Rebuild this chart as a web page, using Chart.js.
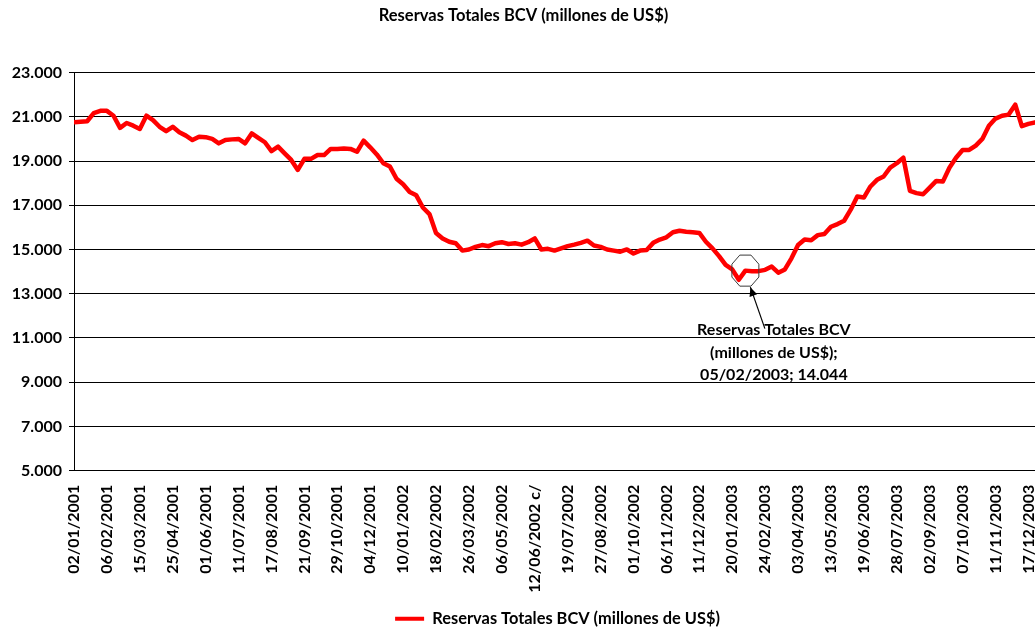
<!DOCTYPE html>
<html>
<head>
<meta charset="utf-8">
<script src="https://cdn.jsdelivr.net/npm/chart.js@4.4.1/dist/chart.umd.min.js"></script>
<style>
  html, body { margin: 0; padding: 0; background: #ffffff; overflow: hidden; }
  #wrap { width: 1035px; height: 632px; }
</style>
</head>
<body>
<div id="wrap"><canvas id="c" width="1035" height="632"></canvas></div>
<script>
// ---- data ----
const chartTitle = 'Reservas Totales BCV (millones de US$)';
const seriesName = 'Reservas Totales BCV (millones de US$)';

const tickLabels = [
  '02/01/2001', '06/02/2001', '15/03/2001', '25/04/2001', '01/06/2001',
  '11/07/2001', '17/08/2001', '21/09/2001', '29/10/2001', '04/12/2001',
  '10/01/2002', '18/02/2002', '26/03/2002', '06/05/2002', '12/06/2002 c/',
  '19/07/2002', '27/08/2002', '01/10/2002', '06/11/2002', '11/12/2002',
  '20/01/2003', '24/02/2003', '03/04/2003', '13/05/2003', '19/06/2003',
  '28/07/2003', '02/09/2003', '07/10/2003', '11/11/2003', '17/12/2003'
];
const pointsPerLabel = 5; // weekly readings between labelled dates

const reserves = [
  20750, 20780, 20800, 21170, 21270, 21270, 21050, 20500, 20720, 20600,
  20450, 21050, 20850, 20550, 20350, 20550, 20300, 20150, 19950, 20100,
  20080, 20000, 19800, 19950, 19980, 20000, 19800, 20250, 20050, 19850,
  19450, 19650, 19350, 19050, 18600, 19100, 19100, 19270, 19270, 19550,
  19550, 19570, 19550, 19420, 19920, 19620, 19300, 18900, 18750, 18200,
  17950, 17600, 17450, 16900, 16600, 15750, 15500, 15350, 15280, 14950,
  15000, 15120, 15200, 15150, 15280, 15330, 15250, 15280, 15220, 15330,
  15500, 15000, 15030, 14950, 15050, 15150, 15220, 15300, 15400, 15180,
  15120, 15000, 14950, 14900, 15000, 14820, 14950, 14980, 15300, 15450,
  15550, 15780, 15850, 15800, 15780, 15750, 15350, 15050, 14700, 14300,
  14100, 13630, 14044, 14020, 14020, 14080, 14230, 13950, 14100, 14600,
  15200, 15450, 15420, 15650, 15700, 16030, 16150, 16300, 16800, 17400,
  17350, 17850, 18150, 18300, 18700, 18900, 19150, 17650, 17550, 17500,
  17800, 18100, 18070, 18700, 19150, 19500, 19500, 19700, 20000, 20600,
  20920, 21050, 21100, 21550, 20580, 20680, 20750
];

const annotationIndex = 102; // 05/02/2003
const annotationLines = ['Reservas Totales BCV', '(millones de US$);', '05/02/2003; 14.044'];

const yMin = 5000, yMax = 23000, yStep = 2000;

// ---- helpers ----
const FONT = 'Lato, "Open Sans", sans-serif';
function fmtThousands(v) {
  return String(Math.round(v)).replace(/\B(?=(\d{3})+(?!\d))/g, '.');
}

const boxShiftPlugin = {
  id: 'boxShift',
  afterLayout(chart) {
    const lg = chart.legend;
    if (lg) { lg.left += 40; lg.right += 40; }
    const tt = chart.titleBlock;
    if (tt) { tt.left += 6; tt.right += 6; }
  }
};

const calloutPlugin = {
  id: 'callout',
  afterDatasetsDraw(chart) {
    const pt = chart.getDatasetMeta(0).data[annotationIndex];
    if (!pt) return;
    const ctx = chart.ctx;
    const cx = pt.x, cy = pt.y;
    ctx.save();
    // octagon marker
    const rx = 14.6, ry = 16.8;
    ctx.beginPath();
    for (let i = 0; i < 8; i++) {
      const a = Math.PI / 8 + i * Math.PI / 4;
      const px = cx + rx * Math.cos(a);
      const py = cy + ry * Math.sin(a);
      if (i === 0) ctx.moveTo(px, py); else ctx.lineTo(px, py);
    }
    ctx.closePath();
    ctx.strokeStyle = '#3a3a3a';
    ctx.lineWidth = 1;
    ctx.stroke();
    // arrow
    const tx = cx + 19.5, ty = cy + 58;
    const hx = cx + 5, hy = cy + 16.5;
    ctx.beginPath();
    ctx.moveTo(tx, ty);
    ctx.lineTo(hx, hy);
    ctx.strokeStyle = '#000';
    ctx.lineWidth = 1.2;
    ctx.stroke();
    const ang = Math.atan2(hy - ty, hx - tx);
    const L = 9, W = 4;
    ctx.beginPath();
    ctx.moveTo(hx, hy);
    ctx.lineTo(hx - L * Math.cos(ang) + W * Math.sin(ang), hy - L * Math.sin(ang) - W * Math.cos(ang));
    ctx.lineTo(hx - L * Math.cos(ang) - W * Math.sin(ang), hy - L * Math.sin(ang) + W * Math.cos(ang));
    ctx.closePath();
    ctx.fillStyle = '#000';
    ctx.fill();
    // label text
    ctx.font = 'bold 16px ' + FONT;
    ctx.fillStyle = '#000';
    ctx.textAlign = 'center';
    ctx.textBaseline = 'middle';
    const offs = [59, 82.5, 104];
    annotationLines.forEach((t, i) => ctx.fillText(t, cx + 28.5, cy + offs[i]));
    ctx.restore();
  }
};

new Chart(document.getElementById('c'), {
  type: 'line',
  data: {
    datasets: [{
      label: seriesName,
      data: reserves.map((v, i) => ({ x: i, y: v })),
      borderColor: '#FF0000',
      backgroundColor: '#FF0000',
      borderWidth: 4.5,
      pointRadius: 0,
      tension: 0,
      borderJoinStyle: 'round',
      borderCapStyle: 'round'
    }]
  },
  options: {
    responsive: false,
    animation: false,
    devicePixelRatio: 1,
    layout: { padding: { left: 0, right: 0, top: 0, bottom: -5 } },
    plugins: {
      title: {
        display: true,
        text: chartTitle,
        color: '#000',
        font: { family: FONT, size: 16.5, weight: 'bold' },
        padding: { top: 6, bottom: 46.8 }
      },
      legend: {
        position: 'bottom',
        labels: {
          color: '#000',
          font: { family: FONT, size: 16.4, weight: 'bold' },
          boxWidth: 29,
          boxHeight: 4,
          padding: 10,
          generateLabels(chart) {
            return Chart.defaults.plugins.legend.labels.generateLabels(chart).map(l => ({
              ...l, lineWidth: 0, fillStyle: '#FF0000', strokeStyle: '#FF0000'
            }));
          }
        }
      },
      tooltip: { enabled: false }
    },
    scales: {
      x: {
        type: 'linear',
        min: 0,
        max: reserves.length - 1,
        grid: { display: false, drawTicks: false },
        border: { display: true, color: '#000' },
        afterBuildTicks(scale) {
          scale.ticks = tickLabels.map((t, i) => ({ value: i * pointsPerLabel }));
        },
        afterFit(scale) {
          scale.height = 130;
          scale.paddingLeft = 0;
          scale.paddingRight = 0;
        },
        ticks: {
          autoSkip: false,
          minRotation: 90,
          maxRotation: 90,
          padding: 14,
          color: '#000',
          font: { family: FONT, size: 16, weight: 'bold' },
          callback: (v) => tickLabels[Math.round(v / pointsPerLabel)] ?? ''
        }
      },
      y: {
        min: yMin,
        max: yMax,
        grid: { color: '#000', lineWidth: 1, tickLength: 5 },
        border: { display: true, color: '#000' },
        afterFit(scale) { scale.width = 74; },
        ticks: {
          stepSize: yStep,
          padding: 7,
          color: '#000',
          font: { family: FONT, size: 16, weight: 'bold' },
          callback: (v) => fmtThousands(v)
        }
      }
    }
  },
  plugins: [calloutPlugin, boxShiftPlugin]
});
</script>
</body>
</html>
